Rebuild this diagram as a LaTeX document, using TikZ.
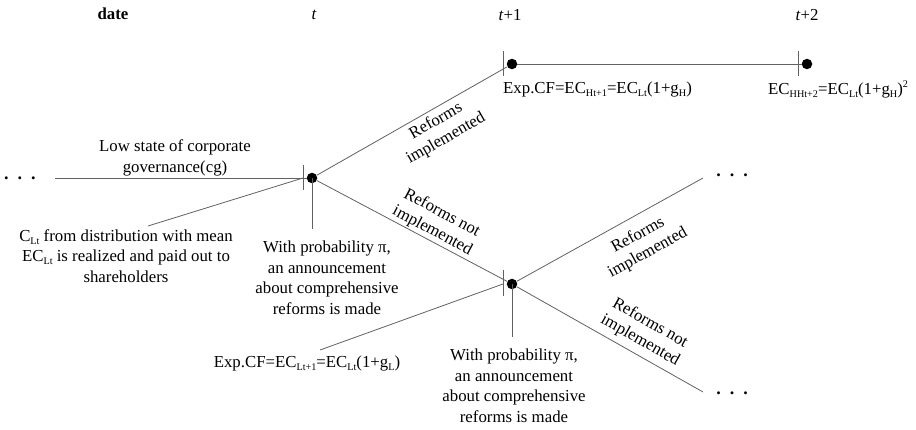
\documentclass[tikz,border=0pt]{standalone}
\usepackage{fontspec}
\setmainfont{Liberation Serif}
\newcommand\mysub[1]{\raisebox{-3pt}{\fontsize{10.2}{11}\selectfont #1}}
\newcommand\mysup[1]{\raisebox{7pt}{\fontsize{10.2}{11}\selectfont #1}}
\begin{document}
\begin{tikzpicture}[x=1pt,y=-1pt]
\tikzset{
  ln/.style={draw=black!62, line width=0.8pt},
  dotnode/.style={circle, fill=black, inner sep=0pt, minimum size=10.5pt},
  txt/.style={inner sep=0pt, align=center, font=\fontsize{16.8}{20.5}\selectfont},
  rtxt/.style={inner sep=0pt, align=center, font=\fontsize{16.8}{20}\selectfont},
  dotsnode/.style={inner sep=0pt, font=\fontsize{18}{20}\selectfont\bfseries}
}
\useasboundingbox (0,0) rectangle (916,430);

% header
\node[txt, font=\fontsize{16.8}{20.5}\selectfont\bfseries] (date) at (113,14) {date};
\node[txt] (ht) at (314,15) {\textit{t}};
\node[txt] (ht1) at (510,15) {\textit{t}+1};
\node[txt] (ht2) at (807,15) {\textit{t}+2};

% decision nodes
\node[dotnode] (n1) at (312,178) {};
\node[dotnode] (n2) at (512,64) {};
\node[dotnode] (n3) at (807,64) {};
\node[dotnode] (n4) at (512,284) {};

% ticks
\coordinate (tk1) at (303,178);
\coordinate (tk2) at (503,64);
\coordinate (tk3) at (798,64);
\coordinate (tk4) at (503,284);
\draw[ln] ([yshift=-12pt]tk1) -- ([yshift=13pt]tk1);
\draw[ln] ([yshift=-12pt]tk2) -- ([yshift=13pt]tk2);
\draw[ln] ([yshift=-12pt]tk3) -- ([yshift=13pt]tk3);
\draw[ln] ([yshift=-12pt]tk4) -- ([yshift=14pt]tk4);

% dots
\node[dotsnode] (ld) at (20,178) {.\hskip 9pt.\hskip 9pt.};
\node[dotsnode] (rd1) at (732,175) {.\hskip 9pt.\hskip 9pt.};
\node[dotsnode] (rd2) at (732,393) {.\hskip 9pt.\hskip 9pt.};

% free ends
\coordinate (lstart) at (55,178);
\coordinate (e1) at (703,178);
\coordinate (e2) at (703,392);
\coordinate (v1) at (312,229);
\coordinate (v2) at (512,337);

% branches
\draw[ln] (lstart) -- (n1);
\draw[ln] (n1) -- (n2);
\draw[ln] (n2) -- (n3);
\draw[ln] (n1) -- (n4);
\draw[ln] (n4) -- (e1);
\draw[ln] (n4) -- (e2);
\draw[ln] (n1.center) -- (v1);
\draw[ln] (n4.center) -- (v2);

% labels
\node[txt] (low) at (175,158) {Low state of corporate\\governance(cg)};
\node[txt] (clt) at (126,256) {C\mysub{Lt} from distribution with mean\\EC\mysub{Lt} is realized and paid out to\\shareholders};
\node[txt] (p1) at (327,278) {With probability π,\\an announcement\\about comprehensive\\reforms is made};
\node[txt] (p2) at (514,386) {With probability π,\\an announcement\\about comprehensive\\reforms is made};
\node[txt, anchor=west] (ecH) at (503,89) {Exp.CF=EC\mysub{Ht+1}=EC\mysub{Lt}(1+g\mysub{H})};
\node[txt, anchor=west] (ecHH) at (768,89) {EC\mysub{HHt+2}=EC\mysub{Lt}(1+g\mysub{H})\mysup{2}};
\node[txt] (ecL) at (307,363) {Exp.CF=EC\mysub{Lt+1}=EC\mysub{Lt}(1+g\mysub{L})};

% leader lines
\coordinate (c1) at (148,226);
\coordinate (c2) at (320,350);
\draw[ln] (c1) -- (tk1);
\draw[ln] (c2) -- (tk4);

% branch labels
\node[rtxt, rotate=29.7] (r1) at (441,130) {Reforms\\implemented};
\node[rtxt, rotate=-28] (r2) at (437,222) {Reforms not\\implemented};
\node[rtxt, rotate=29] (r3) at (643,244) {Reforms\\implemented};
\node[rtxt, rotate=-29.5] (r4) at (645,332) {Reforms not\\implemented};
\end{tikzpicture}
\end{document}
